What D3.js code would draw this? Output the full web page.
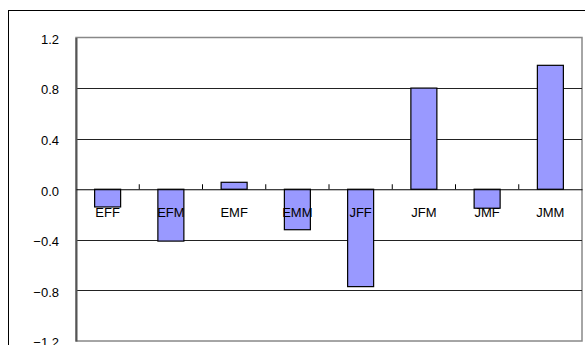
<!DOCTYPE html>
<html><head><meta charset="utf-8">
<script src="https://cdn.jsdelivr.net/npm/d3@7"></script>
<style>
html,body{margin:0;padding:0;background:#fff;}
svg{display:block;}
</style></head>
<body>
<svg id="c" width="585" height="345"></svg>
<script>
const categories = ["EFF","EFM","EMF","EMM","JFF","JFM","JMF","JMM"];
const values = [-0.14, -0.41, 0.055, -0.32, -0.77, 0.80, -0.15, 0.98];
const yTicks = [1.2, 0.8, 0.4, 0.0, -0.4, -0.8, -1.2];

const svg = d3.select("#c");
const L = 76, T = 37.5, R = 582, B = 341;
const FONT = "'Liberation Sans', Arial, sans-serif";

// outer chart border (cropped on right/bottom)
svg.append("rect").attr("x", 8.5).attr("y", 10.5).attr("width", 600).attr("height", 400)
  .attr("fill", "#fff").attr("stroke", "#000").attr("stroke-width", 1);

const x = d3.scaleBand().domain(categories).range([L, R]).paddingInner(0).paddingOuter(0);
const y = d3.scaleLinear().domain([-1.2, 1.2]).range([B, T]);

// plot area border
svg.append("rect").attr("x", L).attr("y", T).attr("width", R - L).attr("height", B - T)
  .attr("fill", "#fff").attr("stroke", "#888").attr("stroke-width", 1.5);

// gridlines
svg.append("g").selectAll("line").data(yTicks.filter(d => d !== 0 && Math.abs(d) < 1.2))
  .join("line")
  .attr("x1", L).attr("x2", R)
  .attr("y1", d => Math.round(y(d)) + 0.5).attr("y2", d => Math.round(y(d)) + 0.5)
  .attr("stroke", "#222").attr("stroke-width", 1);

// y axis
const fmt = d => (d < 0 ? "\u2212" : "") + Math.abs(d).toFixed(1);
const yAxis = d3.axisLeft(y).tickValues(yTicks).tickFormat(fmt).tickSize(0).tickPadding(17);
const gy = svg.append("g").attr("transform", `translate(${L},0)`).call(yAxis);
gy.select(".domain").attr("stroke", "#555").attr("stroke-width", 2);
gy.selectAll("text").attr("font-family", FONT)
  .attr("font-size", 13).attr("fill", "#000").attr("dy", "0.45em");

// bars
const bw = 26;
svg.append("g").selectAll("rect").data(values).join("rect")
  .attr("x", (d, i) => x(categories[i]) + x.bandwidth() / 2 - bw / 2)
  .attr("width", bw)
  .attr("y", d => y(Math.max(0, d)))
  .attr("height", d => Math.abs(y(d) - y(0)))
  .attr("fill", "#9999FF").attr("stroke", "#000").attr("stroke-width", 1.2);

// x axis at zero
const xAxis = d3.axisTop(x).tickSize(0).tickFormat("");
const gx = svg.append("g").attr("transform", `translate(0,${y(0)})`).call(xAxis);
gx.select(".domain").attr("stroke", "#000").attr("stroke-width", 1.2);
gx.selectAll(".bound").data(categories.slice(1)).join("line")
  .attr("x1", d => x(d)).attr("x2", d => x(d))
  .attr("y1", 0).attr("y2", -5).attr("stroke", "#000").attr("stroke-width", 1);

// category labels
svg.append("g").selectAll("text").data(categories).join("text")
  .attr("x", d => x(d) + x.bandwidth() / 2)
  .attr("y", y(0) + 28)
  .attr("text-anchor", "middle")
  .attr("font-family", FONT)
  .attr("font-size", 13).attr("fill", "#000")
  .text(d => d);
</script>
</body></html>
